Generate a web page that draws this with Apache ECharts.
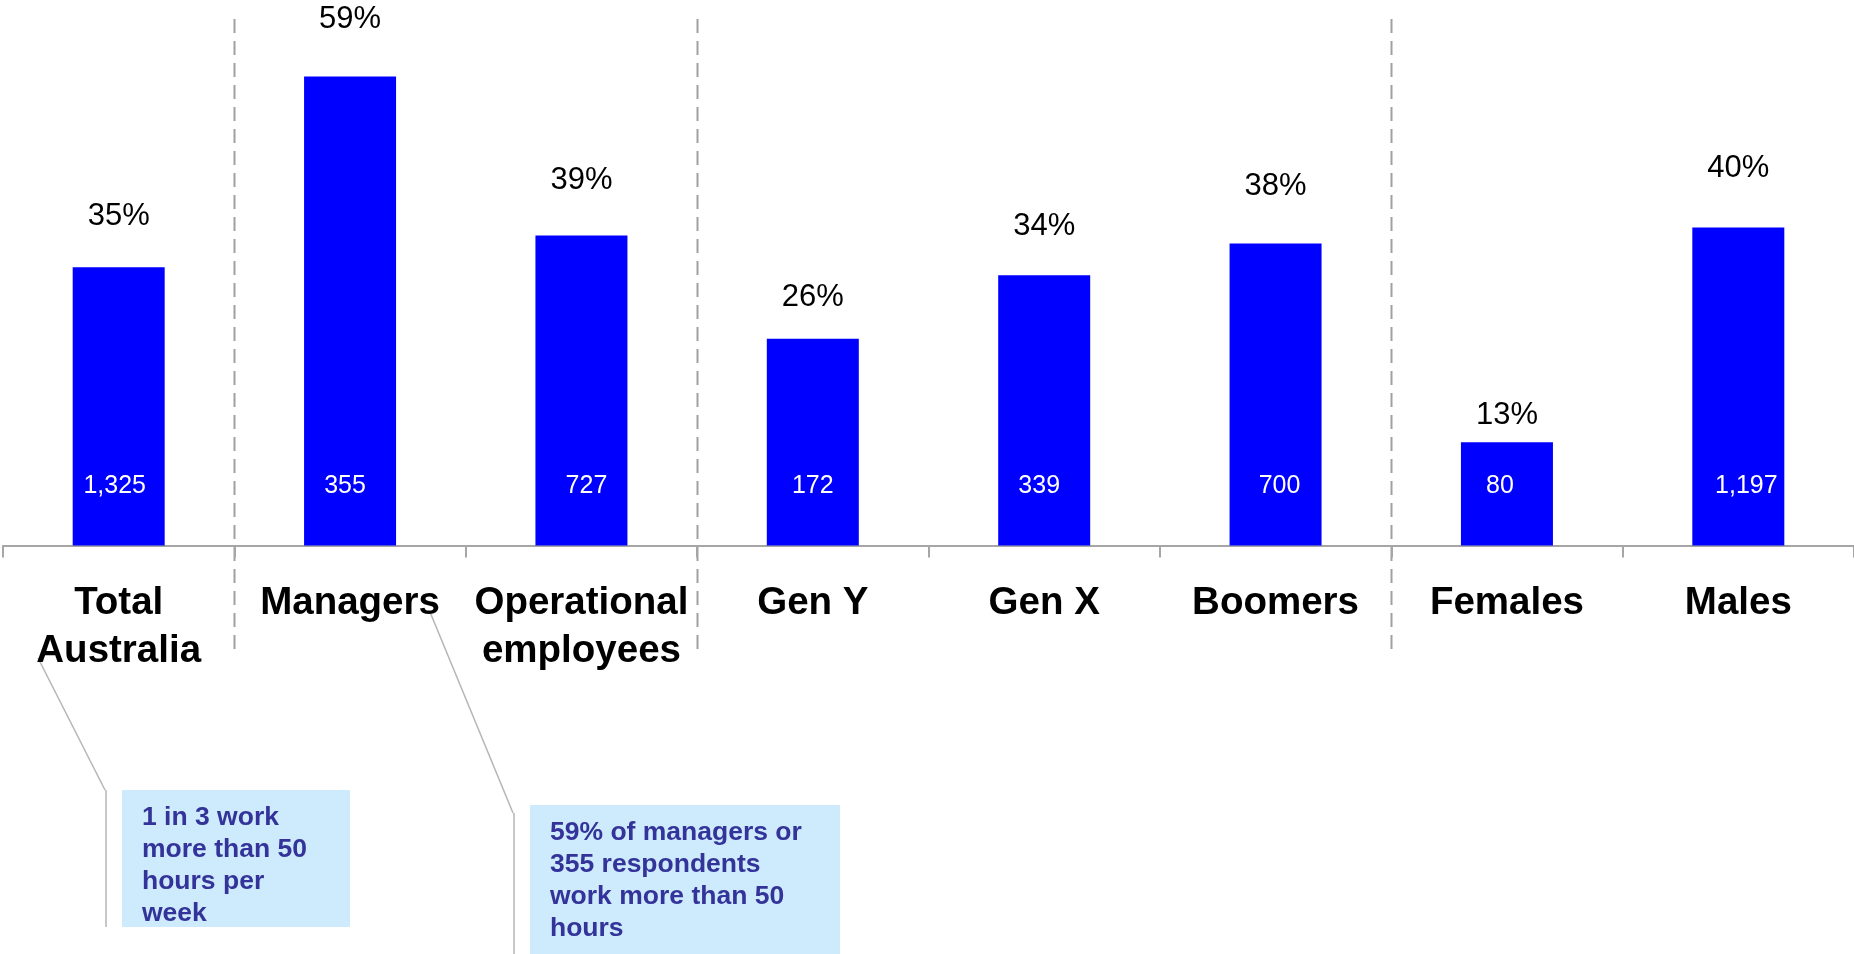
<!DOCTYPE html>
<html>
<head>
<meta charset="utf-8">
<title>Working more than 50 hours per week</title>
<script src="https://cdn.jsdelivr.net/npm/echarts@6/dist/echarts.min.js"></script>
<style>
  html, body { margin: 0; padding: 0; background: #ffffff; }
  #chart { width: 1854px; height: 954px; }
</style>
</head>
<body>
<div id="chart"></div>
<script>
// Share of respondents working more than 50 hours a week, by group
const categories = ['Total\nAustralia', 'Managers', 'Operational\nemployees', 'Gen Y', 'Gen X', 'Boomers', 'Females', 'Males'];
const percents = [35, 59, 39, 26, 34, 38, 13, 40];
const respondents = [1325, 355, 727, 172, 339, 700, 80, 1197];
// Dashed separators sit before these category indices
const groupStarts = [1, 3, 6];

// Label placement tweaks (px): gap above each bar, sideways nudge of the counts
const pctLabelGap = [35.5, 41.5, 39.5, 25.5, 33.5, 41.5, 11.5, 43.5];
const countLabelNudge = [-4, -5, 5, 0, -5, 4, -7, 8];

const FONT = "'Liberation Sans', Arial, sans-serif";
const GRID_LINE = '#a6a6a6';

const chart = echarts.init(document.getElementById('chart'), null, { renderer: 'canvas' });

const pctLabel = {
  show: true,
  position: 'top',
  formatter: p => p.value + '%',
  color: '#000000',
  fontFamily: FONT,
  fontSize: 31,
  lineHeight: 31
};

const countLabel = {
  show: true,
  position: 'insideBottom',
  distance: 47,
  formatter: p => respondents[p.dataIndex].toLocaleString('en-US'),
  color: '#ffffff',
  fontFamily: FONT,
  fontSize: 25,
  lineHeight: 25
};

chart.setOption({
  animation: false,
  backgroundColor: '#ffffff',
  grid: { left: 3, right: 0, top: 68.5, bottom: 408.5, containLabel: false },
  xAxis: {
    type: 'category',
    data: categories,
    boundaryGap: true,
    axisLine: { show: true, lineStyle: { color: GRID_LINE, width: 2 } },
    axisTick: { show: true, length: 12, lineStyle: { color: GRID_LINE, width: 2 } },
    axisLabel: {
      interval: 0,
      margin: 33.5,
      color: '#000000',
      fontFamily: FONT,
      fontWeight: 'bold',
      fontSize: 38.5,
      lineHeight: 48
    },
    splitLine: { show: false }
  },
  yAxis: {
    type: 'value',
    min: 0,
    max: 60,
    show: false,
    splitLine: { show: false }
  },
  series: [
    {
      name: 'Share',
      type: 'bar',
      data: percents.map((v, i) => ({ value: v, label: { distance: pctLabelGap[i] } })),
      barWidth: 92,
      itemStyle: { color: '#0000ff' },
      label: pctLabel
    },
    {
      name: 'Respondents',
      type: 'bar',
      data: percents.map((v, i) => ({ value: v, label: { offset: [countLabelNudge[i], 0] } })),
      barWidth: 92,
      barGap: '-100%',
      silent: true,
      z: 3,
      itemStyle: { color: 'rgba(0,0,0,0)' },
      label: countLabel
    }
  ]
});

// Group separators placed on the category band boundaries
const c0 = chart.convertToPixel({ xAxisIndex: 0 }, 0);
const c1 = chart.convertToPixel({ xAxisIndex: 0 }, 1);
const band = c1 - c0;
const separators = groupStarts.map(i => {
  const x = Math.round(chart.convertToPixel({ xAxisIndex: 0 }, i) - band / 2) + 0.5;
  return {
    type: 'line',
    silent: true,
    shape: { x1: x, y1: 19, x2: x, y2: 650 },
    style: { stroke: '#a0a0a0', lineWidth: 2, lineDash: [14, 8] }
  };
});

const leader = { stroke: '#b5b5b5', lineWidth: 1.5 };
const noteText = {
  fill: '#333399',
  fontFamily: FONT,
  fontWeight: 'bold',
  fontSize: 26.5,
  lineHeight: 32,
  align: 'left',
  verticalAlign: 'top'
};

const callouts = [
  // Note for Total Australia
  { type: 'polyline', silent: true, shape: { points: [[38, 658], [105, 790]] }, style: leader },
  { type: 'line', silent: true, shape: { x1: 106, y1: 790, x2: 106, y2: 927 }, style: leader },
  { type: 'rect', silent: true, shape: { x: 122, y: 790, width: 228, height: 137 }, style: { fill: '#cdebfc' } },
  { type: 'text', silent: true, style: Object.assign({ x: 142, y: 802, text: '1 in 3 work\nmore than 50\nhours per\nweek' }, noteText) },
  // Note for Managers
  { type: 'polyline', silent: true, shape: { points: [[430, 612], [513, 813]] }, style: leader },
  { type: 'line', silent: true, shape: { x1: 514, y1: 813, x2: 514, y2: 954 }, style: leader },
  { type: 'rect', silent: true, shape: { x: 530, y: 805, width: 310, height: 160 }, style: { fill: '#cdebfc' } },
  { type: 'text', silent: true, style: Object.assign({ x: 550, y: 817, text: '59% of managers or\n355 respondents\nwork more than 50\nhours' }, noteText) }
];

chart.setOption({ graphic: separators.concat(callouts) });
</script>
</body>
</html>
